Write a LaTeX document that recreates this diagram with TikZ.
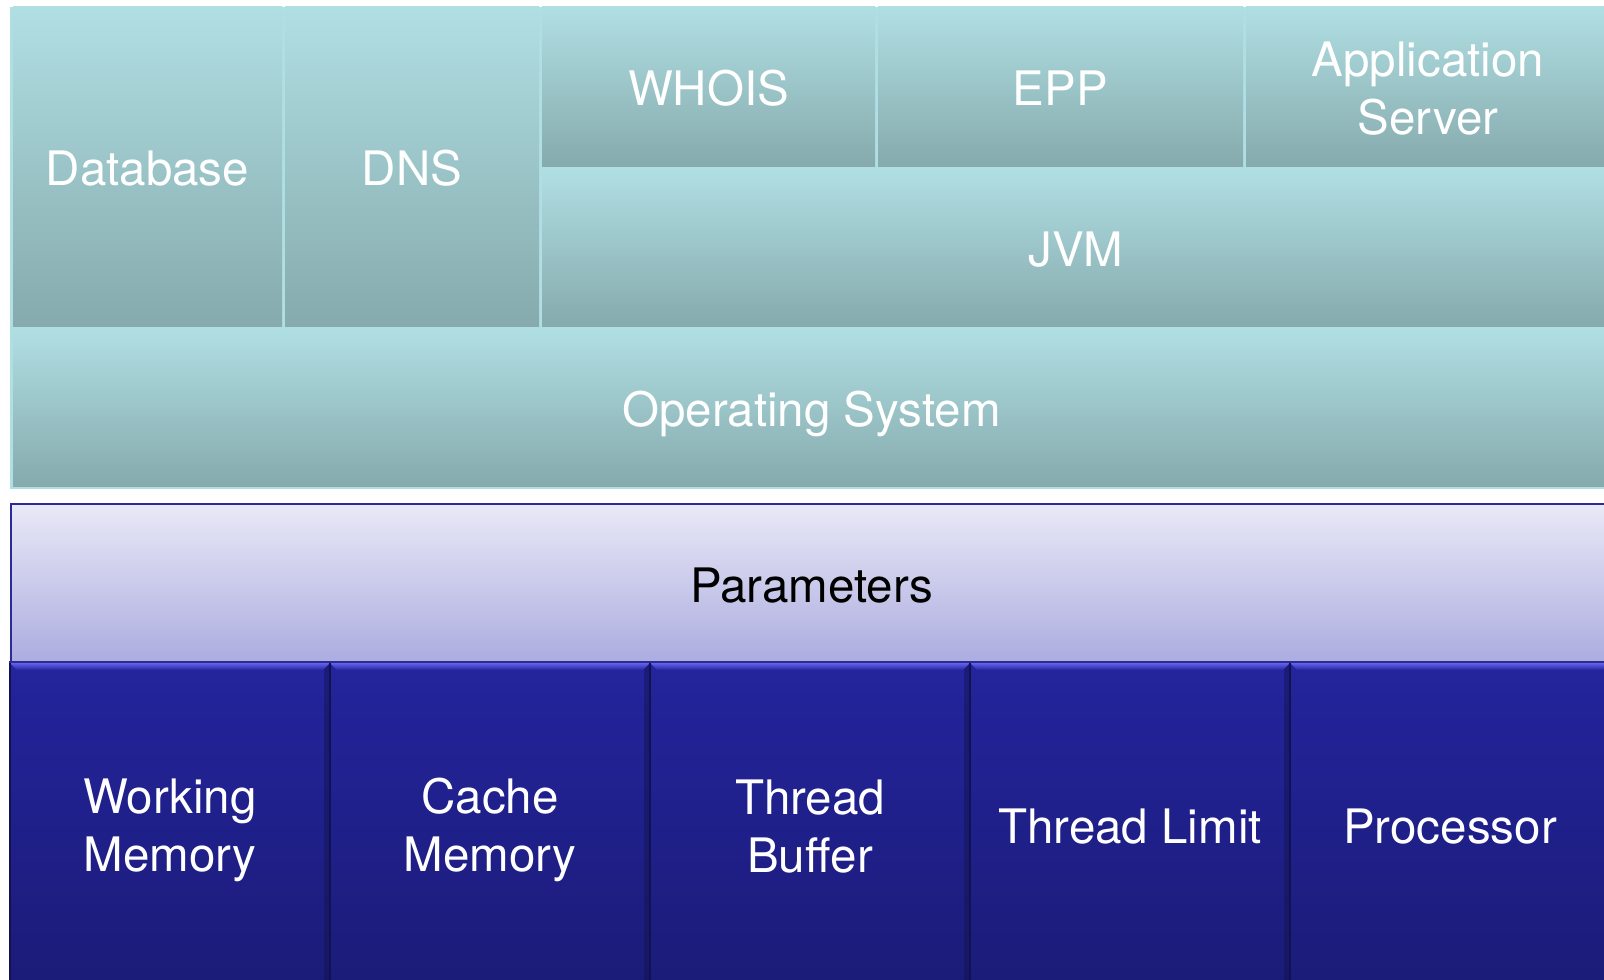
\documentclass[tikz,border=0pt]{standalone}
\usepackage{fontspec}
\setmainfont{TeX Gyre Heros}
\definecolor{tealtop}{RGB}{176,223,227}
\definecolor{tealbot}{RGB}{134,170,173}
\definecolor{partop}{RGB}{233,233,247}
\definecolor{parbot}{RGB}{172,172,224}
\definecolor{parline}{RGB}{43,43,150}
\definecolor{bluetop}{RGB}{36,36,157}
\definecolor{bluebot}{RGB}{27,27,120}
\definecolor{bevtop}{RGB}{98,98,236}
\definecolor{bluedark}{RGB}{18,18,80}
\begin{document}
\begin{tikzpicture}[x=0.5pt,y=-0.5pt,
  lbl/.style={font=\fontsize{23.75pt}{29pt}\selectfont, align=center, inner sep=0pt, outer sep=0pt, anchor=north west, text depth=0pt},
  teal/.style={lbl, text=white, top color=tealtop, bottom color=tealbot, text height=19.3pt},
  param/.style={lbl, text=black, top color=partop, bottom color=parbot, draw=parline, line width=1pt, text height=19pt},
  hw/.style={lbl, text=white, top color=bluetop, bottom color=bluebot, minimum width=160pt, minimum height=162pt, text height=18pt},
  twoline/.style={text height=48.3pt},
]
\useasboundingbox (0,0) rectangle (1604,979);
\fill[white] (0,0) rectangle (1604,979);
\begin{scope}
\clip (0,0) rectangle (1604,979);
% software stack container
\fill[tealtop] (10,7) rectangle (1612,489);
\node[teal, minimum width=134.5pt, minimum height=159.5pt] (db) at (13,7) {Database};
\node[teal, minimum width=127pt, minimum height=159.5pt] (dns) at (285,7) {DNS};
\node[teal, minimum width=166.5pt, minimum height=79.5pt] (whois) at (542,7) {WHOIS};
\node[teal, minimum width=182.5pt, minimum height=79.5pt] (epp) at (878,7) {EPP};
\node[teal, twoline, minimum width=182pt, minimum height=79.5pt] (app) at (1246,7) {Application\\Server};
\node[teal, minimum width=534pt, minimum height=79pt] (jvm) at (542,168) {JVM};
\node[teal, minimum width=798.5pt, minimum height=79pt] (os) at (13,328) {Operating System};
% parameters
\node[param, minimum width=800.5pt, minimum height=79pt] (par) at (11,504) {Parameters};
% hardware blocks
\node[hw, text height=46.05pt] (wm) at (10,663) {Working\\Memory};
\node[hw, text height=46.05pt] (cm) at (330,663) {Cache\\Memory};
\node[hw, text height=47pt] (tb) at (650,663) {Thread\\Buffer};
\node[hw] (tl) at (970,663) {Thread Limit};
\node[hw] (pr) at (1290,663) {Processor};
\foreach \n in {wm,cm,tb,tl,pr}{
  \shade[top color=bevtop, bottom color=bluetop]
    (\n.north west) -- (\n.north east) -- ([xshift=-3.5pt,yshift=-3.5pt]\n.north east)
    -- ([xshift=3.5pt,yshift=-3.5pt]\n.north west) -- cycle;
  \fill[bluedark, opacity=0.45]
    (\n.north east) -- ([xshift=-3pt,yshift=-3pt]\n.north east)
    -- ([xshift=-3pt]\n.south east) -- (\n.south east) -- cycle;
  \draw[bluedark, line width=0.8pt] (\n.north west) -- (\n.south west);
}
\draw[parline, line width=1pt] (9,662) -- (par.south east);
\end{scope}
\end{tikzpicture}
\end{document}
